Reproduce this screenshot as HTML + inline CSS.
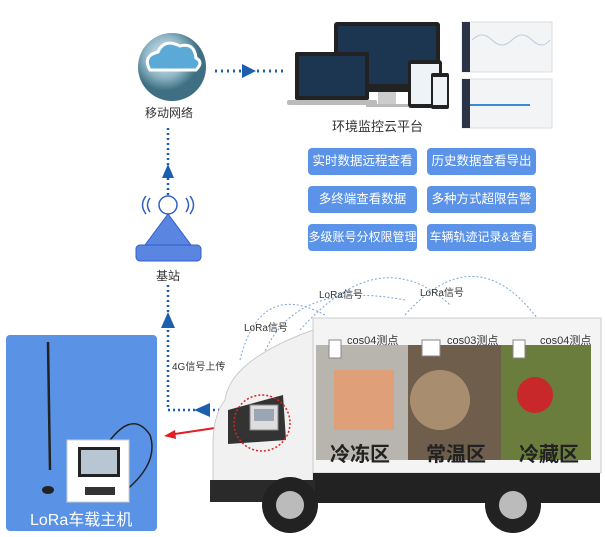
<!DOCTYPE html>
<html><head><meta charset="utf-8"><style>
body{margin:0;width:605px;height:537px;background:#fff;position:relative;overflow:hidden;font-family:"Liberation Sans","Noto Sans CJK SC",sans-serif}
.a{position:absolute}
.btn{position:absolute;width:109px;height:27px;background:#5b93e8;border-radius:4px;color:#fff;font-size:12.5px;line-height:27px;text-align:center;white-space:nowrap;overflow:hidden}
.t{position:absolute;font-size:11px;color:#333;white-space:nowrap}
</style></head><body>
<svg class="a" style="left:0;top:0" width="605" height="537">
<defs><radialGradient id="g" cx=".4" cy=".35"><stop offset="0" stop-color="#e8f2f6"/><stop offset=".6" stop-color="#8fb6c6"/><stop offset="1" stop-color="#3e6f82"/></radialGradient></defs>
<circle cx="172" cy="67" r="34" fill="url(#g)"/>
<path d="M150 70 q-8 -14 8 -18 q6 -14 22 -6 q14 -4 16 12 q8 4 0 12 z" fill="#5aa9d6" stroke="#fff" stroke-width="3"/>
<line x1="215" y1="71" x2="287" y2="71" stroke="#1d5fae" stroke-width="3" stroke-dasharray="2 4"/>
<polygon points="242,64 256,71 242,78" fill="#1d5fae"/>
<rect x="334" y="22" width="106" height="70" rx="3" fill="#222"/><rect x="338" y="26" width="98" height="58" fill="#1c3550"/>
<rect x="378" y="92" width="18" height="12" fill="#ccc"/><rect x="366" y="104" width="42" height="3" fill="#bbb"/>
<rect x="295" y="52" width="74" height="48" rx="2" fill="#222"/><rect x="299" y="56" width="66" height="40" fill="#1c3550"/>
<rect x="287" y="100" width="90" height="5" rx="2" fill="#bbb"/>
<rect x="408" y="60" width="34" height="48" rx="3" fill="#222"/><rect x="411" y="64" width="28" height="40" fill="#eef3f8"/>
<rect x="431" y="73" width="18" height="36" rx="2" fill="#222"/><rect x="433" y="77" width="14" height="28" fill="#eef3f8"/>
<rect x="462" y="22" width="90" height="50" fill="#f3f4f6" stroke="#ddd"/><rect x="462" y="22" width="8" height="50" fill="#2b3447"/>
<path d="M472 40 q10 -10 20 0 t20 0 t20 0 t18 0" stroke="#bcd" fill="none"/>
<rect x="462" y="79" width="90" height="49" fill="#f3f4f6" stroke="#ddd"/><rect x="462" y="79" width="8" height="49" fill="#2b3447"/>
<rect x="470" y="104" width="60" height="2" fill="#3a8bd0"/>
<line x1="168" y1="128" x2="168" y2="195" stroke="#1d5fae" stroke-width="2.5" stroke-dasharray="2 3"/>
<polygon points="162,178 168,164 174,178" fill="#1d5fae"/>
<circle cx="168" cy="205" r="9" fill="#fff" stroke="#3060c8" stroke-width="1.5"/>
<polygon points="168,214 145,245 191,245" fill="#5a85e0" stroke="#3060c8"/>
<rect x="136" y="245" width="65" height="16" rx="4" fill="#5a85e0" stroke="#3060c8"/>
<path d="M150 198 q-5 7 0 14 M146 196 q-7 9 0 18 M186 198 q5 7 0 14 M190 196 q7 9 0 18" stroke="#3060c8" fill="none" stroke-width="1.5"/>
<line x1="168" y1="285" x2="168" y2="410" stroke="#1d5fae" stroke-width="2.5" stroke-dasharray="2 3"/>
<polygon points="161,328 168,312 175,328" fill="#1d5fae"/>
<line x1="168" y1="410" x2="245" y2="410" stroke="#1d5fae" stroke-width="2.5" stroke-dasharray="2 3"/>
<polygon points="194,410 210,403 210,417" fill="#1d5fae"/>
<line x1="235" y1="425" x2="168" y2="435" stroke="#e02020" stroke-width="2"/>
<polygon points="164,436 175,430 176,439" fill="#e02020"/>
<path d="M240 360 q20 -80 85 -45 M255 385 q20 -110 150 -85 M300 330 q80 -90 150 -25 M405 315 q80 -90 150 30" stroke="#7aa5d8" fill="none" stroke-dasharray="2 2"/>
<rect x="313" y="318" width="288" height="155" fill="#f4f4f4" stroke="#ccc"/>
<rect x="316" y="345" width="92" height="115" fill="#b8b4ae"/>
<rect x="334" y="370" width="60" height="60" fill="#e89a6a" opacity=".8"/>
<rect x="408" y="345" width="93" height="115" fill="#6f5e4c"/>
<circle cx="440" cy="400" r="30" fill="#a88d6e"/>
<rect x="501" y="345" width="90" height="115" fill="#6a7d3c"/>
<circle cx="535" cy="395" r="18" fill="#c8282a"/>
<path d="M225 400 q5 -40 88 -70 l0 155 l-100 0 l0 -40 q0 -30 12 -45 z" fill="#f1f1f1" stroke="#ccc"/>
<path d="M228 410 l55 -15 l3 45 l-58 4 z" fill="#333"/>
<rect x="250" y="405" width="28" height="25" fill="#ddd" stroke="#888"/>
<rect x="254" y="409" width="20" height="12" fill="#9aa6b4"/>
<ellipse cx="262" cy="423" rx="28" ry="28" fill="none" stroke="#d22" stroke-width="1.5" stroke-dasharray="2 2"/>
<rect x="313" y="473" width="287" height="30" fill="#222"/>
<rect x="210" y="480" width="105" height="22" fill="#2a2a2a"/>
<circle cx="290" cy="505" r="28" fill="#222"/><circle cx="290" cy="505" r="14" fill="#bbb"/>
<circle cx="513" cy="505" r="28" fill="#222"/><circle cx="513" cy="505" r="14" fill="#bbb"/>
<rect x="329" y="340" width="12" height="18" fill="#fff" stroke="#888"/>
<rect x="422" y="340" width="18" height="16" fill="#fff" stroke="#888"/>
<rect x="513" y="340" width="12" height="18" fill="#fff" stroke="#888"/>
<rect x="6" y="335" width="151" height="196" rx="4" fill="#5a93e6"/>
<line x1="48" y1="342" x2="50" y2="470" stroke="#222" stroke-width="2.5"/>
<ellipse cx="48" cy="490" rx="6" ry="4" fill="#222"/>
<path d="M100 455 q30 -50 50 -20 q10 30 -30 60" stroke="#222" fill="none" stroke-width="1.5"/>
<rect x="67" y="440" width="62" height="62" fill="#fff" stroke="#ccc"/>
<rect x="78" y="447" width="42" height="30" fill="#222"/><rect x="81" y="450" width="36" height="24" fill="#b8c6d4"/>
<rect x="85" y="487" width="30" height="8" fill="#333"/>
</svg>
<div class="t" style="left:145px;top:104px;font-size:12px">移动网络</div>
<div class="t" style="left:332px;top:116px;font-size:13px">环境监控云平台</div>
<div class="t" style="left:156px;top:267px;font-size:12px">基站</div>
<div class="btn" style="left:308px;top:148px">实时数据远程查看</div>
<div class="btn" style="left:427px;top:148px">历史数据查看导出</div>
<div class="btn" style="left:308px;top:186px">多终端查看数据</div>
<div class="btn" style="left:427px;top:186px">多种方式超限告警</div>
<div class="btn" style="left:308px;top:224px;font-size:12px">多级账号分权限管理</div>
<div class="btn" style="left:427px;top:224px;font-size:12px">车辆轨迹记录&amp;查看</div>
<div class="t" style="left:319px;top:286px;font-size:10px">LoRa信号</div>
<div class="t" style="left:420px;top:284px;font-size:10px">LoRa信号</div>
<div class="t" style="left:244px;top:319px;font-size:10px">LoRa信号</div>
<div class="t" style="left:172px;top:358px;font-size:10px">4G信号上传</div>
<div class="t" style="left:347px;top:332px;font-size:11px">cos04测点</div>
<div class="t" style="left:447px;top:332px;font-size:11px">cos03测点</div>
<div class="t" style="left:540px;top:332px;font-size:11px">cos04测点</div>
<div class="t" style="left:330px;top:438px;font-size:20px;font-weight:bold;color:#222">冷冻区</div>
<div class="t" style="left:426px;top:438px;font-size:20px;font-weight:bold;color:#222">常温区</div>
<div class="t" style="left:519px;top:438px;font-size:20px;font-weight:bold;color:#222">冷藏区</div>
<div class="t" style="left:30px;top:506px;font-size:16px;color:#fff">LoRa车载主机</div>
</body></html>
